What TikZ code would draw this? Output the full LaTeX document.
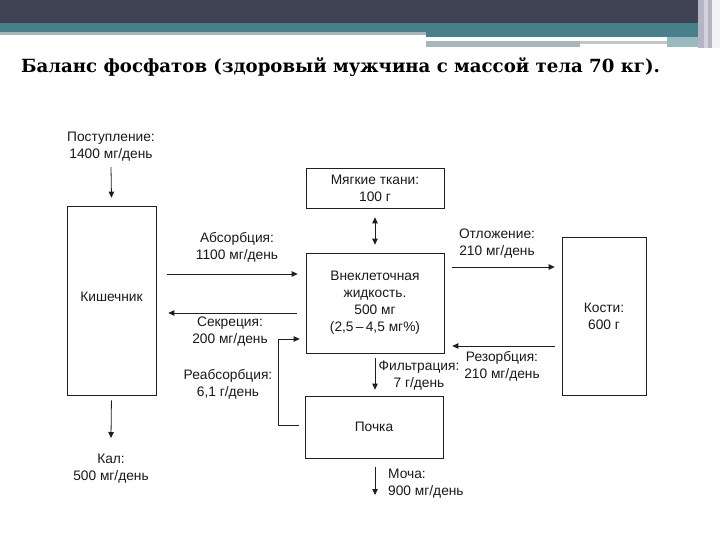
\documentclass[tikz,border=0pt]{standalone}
\usepackage{fontspec}
\setmainfont{Liberation Sans}
\newfontfamily\titlefont{DejaVu Serif}
\usetikzlibrary{arrows.meta}
\definecolor{bandDark}{HTML}{3F4354}
\definecolor{bandTeal}{HTML}{47808A}
\definecolor{bandGray}{HTML}{A6B6B9}
\definecolor{bandLight}{HTML}{BCC8CA}
\definecolor{bandSide}{HTML}{B5B4C4}
\definecolor{lineCol}{HTML}{1E1E1E}
\tikzset{
  box/.style={draw=lineCol, line width=0.7bp, inner sep=0pt},
  lbl/.style={font=\fontsize{13.8}{17}\selectfont, align=center, inner sep=0pt, text=black!90},
  flow/.style={draw=lineCol, line width=0.8bp, -{Triangle[length=6bp,width=5.5bp]}},
  flow2/.style={draw=lineCol, line width=0.8bp, {Triangle[length=6bp,width=5.5bp]}-{Triangle[length=6bp,width=5.5bp]}}
}
\begin{document}
\begin{tikzpicture}[x=1bp,y=-1bp]
\useasboundingbox (0,0) rectangle (720,540);
% banner
\fill[bandDark] (0,0) rectangle (698,23);
\fill[bandTeal] (0,23) rectangle (698,32);
\fill[bandGray] (0,32) rectangle (426,35);
\fill[bandTeal] (426,32) rectangle (698,37);
\fill[bandGray] (426,41) rectangle (580,47);
\fill[bandLight] (580,41) rectangle (667,44);
\fill[bandTeal!55] (667,37) rectangle (698,47);
\fill[bandSide] (698,0) rectangle (720,48);
\fill[bandSide!60] (704,0) rectangle (708,48);
\fill[white!85!bandSide] (712,0) rectangle (720,48);
% title
\node[anchor=west, inner sep=0pt, font=\titlefont\bfseries\fontsize{18.2}{21}\selectfont] (title) at (21,67) {Баланс фосфатов (здоровый мужчина с массой тела 70 кг).};
% boxes
\node[box, minimum width=89bp, minimum height=189bp, lbl] (gut) at (111.5,300.5) {\raisebox{7bp}{Кишечник}};
\node[box, minimum width=138bp, minimum height=40bp, lbl] (soft) at (375,188) {Мягкие ткани:\\100 г};
\node[box, minimum width=138bp, minimum height=100bp, lbl] (ecf) at (375,303) {Внеклеточная\\жидкость.\\500 мг\\(2,5\,--\,4,5 мг\%)};
\node[box, minimum width=84bp, minimum height=158bp, lbl] (bone) at (604,316) {Кости:\\600 г};
\node[box, minimum width=138bp, minimum height=62bp, lbl] (kidney) at (374,427) {Почка};
% labels
\node[lbl] (intake) at (111,146.5) {Поступление:\\1400 мг/день};
\node[lbl] (absorp) at (237,247.5) {Абсорбция:\\1100 мг/день};
\node[lbl] (secret) at (230,331.5) {Секреция:\\200 мг/день};
\node[lbl] (reabs) at (228,384.5) {Реабсорбция:\\6,1 г/день};
\node[lbl] (kal) at (111,468.5) {Кал:\\500 мг/день};
\node[lbl] (deposit) at (497,244) {Отложение:\\210 мг/день};
\node[lbl] (resorp) at (502,366.5) {Резорбция:\\210 мг/день};
\node[lbl] (filtr) at (419,375.5) {Фильтрация:\\7 г/день};
\node[lbl, align=left, anchor=west] (urine) at (388,484) {Моча:\\900 мг/день};
% connectors
\coordinate (intakeEnd) at (111,167);
\coordinate (kalEnd) at (111,438);
\coordinate (urineEnd) at (375,495);
\coordinate (rbCorner) at (278,339);
\draw[flow] (intakeEnd) -- ([yshift=8bp]gut.north);
\draw[flow, shorten <=11bp, shorten >=8bp] (gut.east |- 0,274) -- (ecf.west |- 0,274);
\draw[flow, shorten <=9bp, shorten >=12bp] (ecf.west |- 0,313) -- (gut.east |- 0,313);
\draw[flow, shorten <=6bp] (kidney.west |- 0,425) -| (rbCorner) -- ([xshift=-6bp]ecf.west |- 0,339);
\draw[flow, shorten <=5bp] (gut.south) -- (kalEnd);
\draw[flow2, shorten <=9bp, shorten >=8bp] (soft.south) -- (ecf.north);
\draw[flow, shorten <=8bp, shorten >=7bp] (ecf.east |- 0,267) -- (bone.west |- 0,267);
\draw[flow, shorten <=7bp, shorten >=8bp] (bone.west |- 0,346) -- (ecf.east |- 0,346);
\draw[flow, shorten <=5bp, shorten >=6bp] (ecf.south) -- (kidney.north -| ecf.south);
\draw[flow, shorten <=9bp] (kidney.south -| ecf.south) -- (urineEnd);
\end{tikzpicture}
\end{document}
